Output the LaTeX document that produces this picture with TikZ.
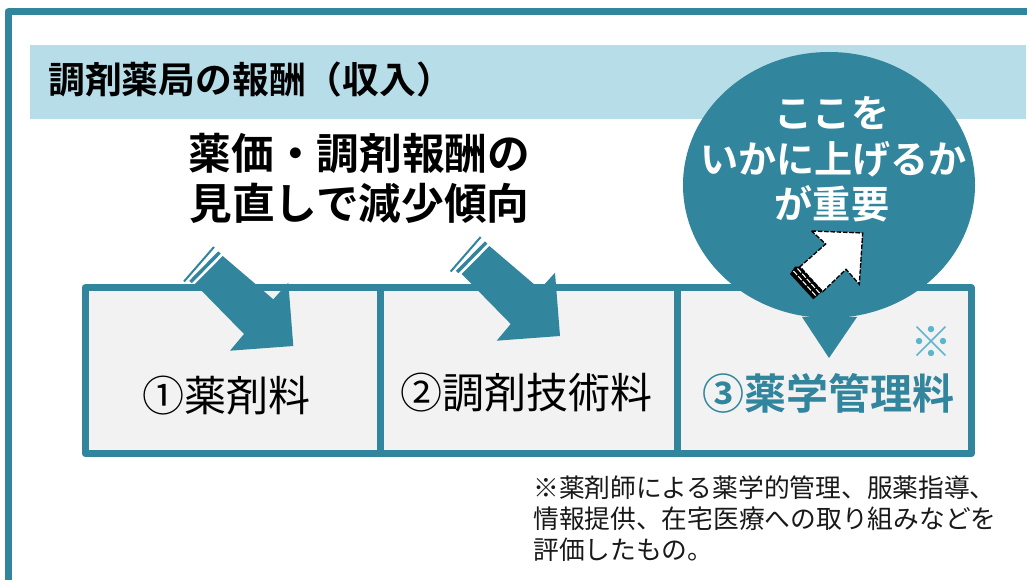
\documentclass[tikz,border=0pt]{standalone}
\usepackage{fontspec}
\setmainfont{Noto Sans CJK JP}
\newfontfamily\jpbold{Noto Sans CJK JP Bold}
\definecolor{teal}{HTML}{31859C}
\definecolor{band}{HTML}{B7DDE8}
\definecolor{cell}{HTML}{F2F2F2}
\definecolor{kome}{HTML}{5BB5CC}
\newcommand{\fspx}[1]{\fontsize{\dimexpr#1pt*3/4\relax}{\dimexpr#1pt*3/4\relax}\selectfont}
\tikzset{
  x=0.75pt,y=-0.75pt,
  frameline/.style={draw=teal,line width=5.25pt,line join=round},
  cellbox/.style={draw=teal,fill=cell,line width=5.25pt,line join=round},
  heading/.style={inner sep=0pt,font=\jpbold\fontsize{27.6pt}{27.6pt}\selectfont,anchor=west},
  headline/.style={inner sep=0pt,font=\jpbold\fontsize{32pt}{32pt}\selectfont,text=black},
  bubbletext/.style={inner sep=0pt,font=\jpbold\fontsize{28.6pt}{28.6pt}\selectfont,text=white},
  celllabel/.style={inner sep=0pt,font=\fontsize{31.5pt}{31.5pt}\selectfont,text=black},
  notetext/.style={inner sep=0pt,font=\fontsize{19.3pt}{19.3pt}\selectfont,text=black!90,anchor=west},
  downarrow/.style={fill=teal,draw=none},
  stripeinner/.style={draw=teal,line width=2.6pt},
  stripeouter/.style={draw=teal,line width=1.5pt},
  dashwhite/.style={white,line width=.8pt,dash pattern=on 4pt off 1.2pt},
}
\begin{document}
\begin{tikzpicture}
\useasboundingbox (0,0) rectangle (1027,580);
\fill[white] (0,0) rectangle (1027,580);
% outer frame
\draw[frameline] (8,580) -- (8,12) -- (1027,12);
% banner
\fill[band] (30,45) rectangle (1026,119);
\node[heading] (title) at (48,80) {調剤薬局の報酬（収入）};
% cells
\draw[cellbox] (85,288) rectangle (380.5,453.5);
\draw[cellbox] (380.5,288) rectangle (677,453.5);
\draw[cellbox] (677,288) rectangle (971.5,453.5);
% headline
\node[headline] (h1) at (359.5,153) {薬価・調剤報酬の};
\node[headline] (h2) at (359.5,203) {見直しで減少傾向};
% down arrows
\foreach \dx/\dy in {0/0,266.7/-10}{
\begin{scope}[shift={(\dx,\dy)}]
  \fill[downarrow] (222.7,256) -- (273.3,299.3) -- (288.3,282.7) -- (293.3,346)
     -- (230,350.7) -- (244,334) -- (195,284) -- cycle;
  \draw[stripeinner] (219.5,252.5) -- (190.5,282);
  \draw[stripeouter] (214,247) -- (184,281.5);
\end{scope}
}
% bubble
\fill[teal] (802,317) -- (829,358) -- (857,317) -- cycle;
\fill[teal] (829,185) ellipse [x radius=146,y radius=133];
\node[bubbletext] (b1) at (832,113) {ここを};
\node[bubbletext] (b2) at (833.5,159) {いかに上げるか};
\node[bubbletext] (b3) at (832,204) {が重要};
% up arrow
\begin{scope}
  \draw[black,fill=white,line width=1pt,dash pattern=on 3.5pt off 1.2pt]
    (811.5,231) -- (862.7,233) -- (859.3,284.3) -- (846,269.3) -- (822.7,291.7)
    -- (800,266.7) -- (825.7,244) -- cycle;
  \fill[black] (795,266.7) -- (799.5,266.7) -- (822.7,291) -- (813.3,299.3) -- (790,274) -- cycle;
  \draw[dashwhite] (793.5,271) -- (816.5,296.5);
  \draw[dashwhite] (797.5,268.5) -- (820,293.5);
\end{scope}
% cell labels
\node[celllabel] (c1) at (226,396) {①薬剤料};
\node[celllabel] (c2) at (526,393) {②調剤技術料};
\node[celllabel,font=\jpbold\fontsize{31.5pt}{31.5pt}\selectfont,text=teal] (c3) at (828,393) {③薬学管理料};
\node[inner sep=0pt,font=\fontsize{31.5pt}{31.5pt}\selectfont,text=kome] (k) at (931,342) {※};
% note
\node[notetext] (n1) at (533,488) {※薬剤師による薬学的管理、服薬指導、};
\node[notetext] (n2) at (533,519) {情報提供、在宅医療への取り組みなどを};
\node[notetext] (n3) at (533,550) {評価したもの。};
\end{tikzpicture}
\end{document}
